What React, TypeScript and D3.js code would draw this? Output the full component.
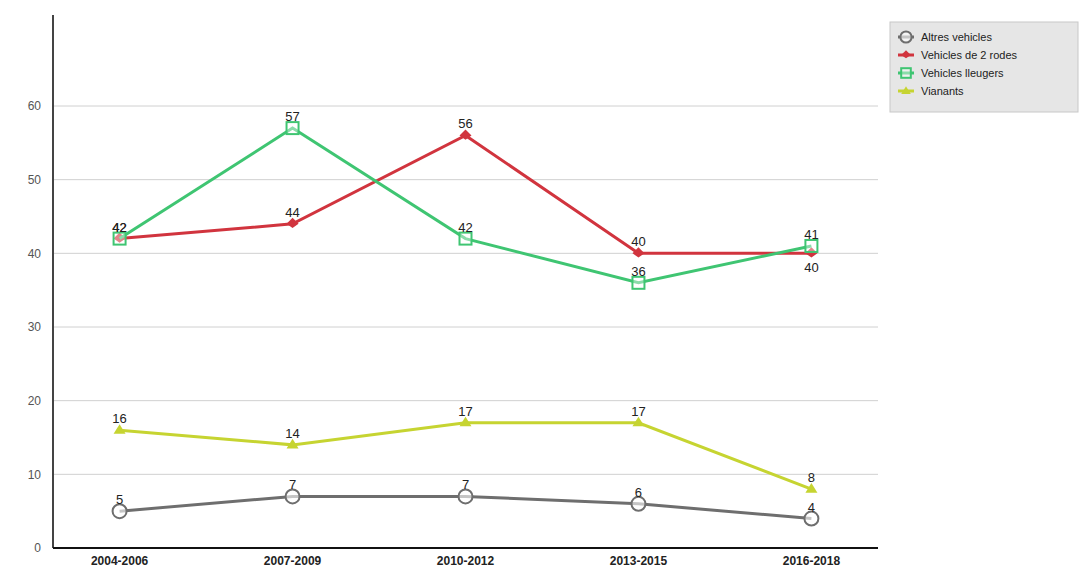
import React from "react";
import * as d3 from "d3";

const periods = ["2004-2006", "2007-2009", "2010-2012", "2013-2015", "2016-2018"];
const altresVehicles = [5, 7, 7, 6, 4];
const vehicles2Rodes = [42, 44, 56, 40, 40];
const vehiclesLleugers = [42, 57, 42, 36, 41];
const vianants = [16, 14, 17, 17, 8];
const yTicks = [0, 10, 20, 30, 40, 50, 60];

type Series = { name: string; values: number[]; color: string; marker: string; below?: number[] };

const series: Series[] = [
  { name: "Altres vehicles", values: altresVehicles, color: "#6e6e6e", marker: "circle" },
  { name: "Vehicles de 2 rodes", values: vehicles2Rodes, color: "#d1343e", marker: "arrow", below: [4] },
  { name: "Vehicles lleugers", values: vehiclesLleugers, color: "#3fc572", marker: "square" },
  { name: "Vianants", values: vianants, color: "#c6d431", marker: "triangle" },
];

const W = 1082;
const H = 574;
const left = 53;
const right = 878;
const top = 15;
const bottom = 548;

function Marker({ type, x, y, color, scale = 1 }: { type: string; x: number; y: number; color: string; scale?: number }) {
  if (type === "circle") {
    return <circle cx={x} cy={y} r={7 * scale} fill="white" fillOpacity={0.6} stroke={color} strokeWidth={2} />;
  }
  if (type === "square") {
    const s = 12 * scale;
    return <rect x={x - s / 2} y={y - s / 2} width={s} height={s} fill="white" fillOpacity={0.4} stroke={color} strokeWidth={2} />;
  }
  if (type === "arrow") {
    const s = 6 * scale;
    return <path d={`M${x - s},${y} L${x},${y - s} L${x + s},${y} L${x},${y + s * 0.7} Z`} fill={color} />;
  }
  const s = 6 * scale;
  return <path d={`M${x - s},${y + s * 0.6} L${x},${y - s} L${x + s},${y + s * 0.6} Z`} fill={color} />;
}

export default function App() {
  const x = d3.scalePoint<string>().domain(periods).range([left, right]).padding(0.385);
  const y = d3.scaleLinear().domain([0, 60]).range([bottom, 106]);
  const line = d3
    .line<number>()
    .x((_, i) => x(periods[i]) as number)
    .y((d) => y(d));

  const font = "Arial, 'Liberation Sans', sans-serif";

  return (
    <svg width={W} height={H} style={{ position: "absolute", left: 0, top: 0 }} fontFamily={font}>
      <rect width={W} height={H} fill="white" />
      {yTicks.map((t) =>
        t > 0 ? (
          <line key={"g" + t} x1={left} x2={right} y1={y(t)} y2={y(t)} stroke="#d0d0d0" strokeWidth={1} />
        ) : null
      )}
      {yTicks.map((t) => (
        <text key={"t" + t} x={41} y={y(t)} dy="0.35em" textAnchor="end" fontSize={12} fill="#555">
          {t}
        </text>
      ))}
      <line x1={left} x2={left} y1={top} y2={bottom} stroke="#444" strokeWidth={2} />
      <line x1={left} x2={right} y1={bottom} y2={bottom} stroke="#111" strokeWidth={2} />
      {periods.map((p) => (
        <text key={p} x={x(p) as number} y={565} textAnchor="middle" fontSize={12} fontWeight="bold" fill="#222">
          {p}
        </text>
      ))}
      {series.map((s) => (
        <g key={s.name}>
          <path d={line(s.values) || ""} fill="none" stroke={s.color} strokeWidth={3} />
          {s.values.map((v, i) => (
            <Marker key={i} type={s.marker} x={x(periods[i]) as number} y={y(v)} color={s.color} />
          ))}
          {s.values.map((v, i) => (
            <text
              key={"l" + i}
              x={x(periods[i]) as number}
              y={s.below && s.below.includes(i) ? y(v) + 19 : y(v) - 7}
              textAnchor="middle"
              fontSize={13}
              fill="#222"
            >
              {v}
            </text>
          ))}
        </g>
      ))}
      <g>
        <rect x={890} y={22} width={188} height={90} fill="#e6e6e6" stroke="#c8c8c8" />
        {series.map((s, i) => {
          const ly = 37 + i * 18;
          return (
            <g key={"lg" + s.name}>
              <line x1={898} x2={914} y1={ly} y2={ly} stroke={s.color} strokeWidth={3} />
              <Marker type={s.marker} x={906} y={ly} color={s.color} scale={0.8} />
              <text x={921} y={ly} dy="0.35em" fontSize={11} fill="#222">
                {s.name}
              </text>
            </g>
          );
        })}
      </g>
    </svg>
  );
}
